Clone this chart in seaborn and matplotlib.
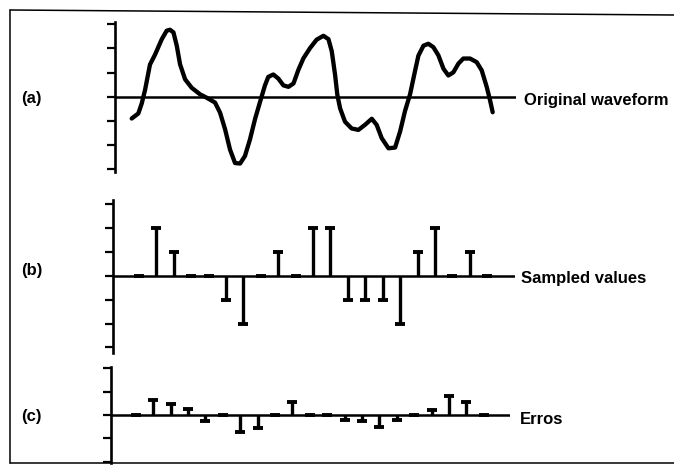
import matplotlib
matplotlib.use("Agg")
import matplotlib.pyplot as plt
import seaborn as sns
import numpy as np
import pandas as pd
from matplotlib.lines import Line2D

# ---------------- data ----------------
panel_letters = ["(a)", "(b)", "(c)"]
panel_names = ["Original waveform", "Sampled values", "Erros"]

wave_t = [-0.44, -0.06, 0.14, 0.33, 0.61, 0.90, 1.29, 1.57, 1.76, 1.96, 2.15, 2.34,
          2.63, 3.01, 3.49, 3.87, 4.35, 4.64, 4.93, 5.21, 5.50, 5.79, 6.07, 6.36,
          6.65, 6.93, 7.22, 7.41, 7.70, 7.99, 8.28, 8.57, 8.86, 9.14, 9.43, 9.81,
          10.19, 10.58, 10.87, 11.06, 11.25, 11.38, 11.54, 11.82, 12.20, 12.59,
          12.97, 13.36, 13.64, 13.93, 14.32, 14.70, 14.99, 15.27, 15.56, 15.85,
          16.04, 16.33, 16.61, 16.90, 17.19, 17.48, 17.76, 18.05, 18.34, 18.62,
          19.01, 19.39, 19.68, 19.97, 20.16, 20.31]
wave_v = [-0.90, -0.69, -0.27, 0.29, 1.33, 1.74, 2.38, 2.73, 2.77, 2.66, 2.11, 1.34,
          0.72, 0.37, 0.10, -0.04, -0.24, -0.66, -1.35, -2.18, -2.74, -2.76, -2.45,
          -1.76, -0.92, -0.23, 0.47, 0.82, 0.92, 0.75, 0.47, 0.41, 0.55, 1.11, 1.59,
          2.01, 2.36, 2.52, 2.38, 1.88, 0.91, 0.08, -0.48, -1.03, -1.31, -1.37,
          -1.16, -0.91, -1.16, -1.71, -2.13, -2.10, -1.43, -0.59, 0.10, 1.08, 1.70,
          2.11, 2.19, 2.05, 1.71, 1.16, 0.88, 1.01, 1.37, 1.58, 1.58, 1.43, 1.09,
          0.40, -0.15, -0.64]

sample_idx = list(range(21))
sampled = [0, 2, 1, 0, 0, -1, -2, 0, 1, 0, 2, 2, -1, -1, -1, -2, 1, 2, 0, 1, 0]
errors = [0, 0.66, 0.49, 0.24, -0.24, 0, -0.73, -0.54, 0, 0.57, 0, 0, -0.23,
          -0.27, -0.53, -0.20, 0, 0.21, 0.80, 0.56, 0]

ticks_ab = [-3, -2, -1, 0, 1, 2, 3]
ticks_c = [-2, -1, 0, 1, 2]

# ---------------- style ----------------
sns.set_style("white")
plt.rcParams['font.family'] = ['Liberation Sans', 'DejaVu Sans']
plt.rcParams['text.color'] = 'black'

W, H = 674, 466
fig = plt.figure(figsize=(W / 100, H / 100), dpi=100)
fig.patch.set_facecolor("white")


def add_ax(l, r, t, b):
    return fig.add_axes([l / W, 1 - b / H, (r - l) / W, (b - t) / H])


def style(ax, yt, xlim, ylim):
    for s in ["top", "right", "bottom"]:
        ax.spines[s].set_visible(False)
    ax.spines["left"].set_linewidth(1.9)
    ax.spines["left"].set_color("black")
    ax.set_xlim(*xlim)
    ax.set_ylim(*ylim)
    ax.set_xticks([])
    ax.set_yticks(yt)
    ax.set_yticklabels([])
    ax.tick_params(axis="y", direction="out", length=6, width=1.6,
                   color="black", left=True)
    ax.axhline(0, color="black", lw=1.8, zorder=1)
    ax.patch.set_alpha(0)
    ax.set_xlabel("")
    ax.set_ylabel("")


def stems(ax, x, y):
    ax.vlines(x, 0, y, color="black", lw=2.4, zorder=2)
    sns.scatterplot(x=x, y=y, marker="_", s=55, linewidth=2.8,
                    color="black", ax=ax, zorder=3, legend=False)


# (a) original waveform
ax_a = add_ax(115, 516, 22, 172)
df_w = pd.DataFrame({"t": wave_t, "v": wave_v})
sns.lineplot(data=df_w, x="t", y="v", sort=False, estimator=None,
             color="black", lw=3.1, ax=ax_a, zorder=3)
for ln in ax_a.lines:
    ln.set_solid_capstyle("round")
    ln.set_solid_joinstyle("round")
style(ax_a, ticks_ab, (-1.40, 21.65), (-3.11, 3.09))

# (b) sampled values
ax_b = add_ax(113, 515, 200, 353)
stems(ax_b, sample_idx, sampled)
style(ax_b, ticks_ab, (-1.49, 21.6), (-3.23, 3.15))

# (c) errors
ax_c = add_ax(111, 510, 367, 463)
stems(ax_c, sample_idx, errors)
style(ax_c, ticks_c, (-1.43, 21.5), (-2.06, 2.06))

# labels
fs = 12
for (lx, ly), txt in zip([(21, 98), (21, 271), (21, 417)], panel_letters):
    fig.text(lx / W, 1 - ly / H, txt, fontsize=fs, fontweight="bold",
             va="center", ha="left", color="black")
for (lx, ly), txt in zip([(524, 100), (521, 278), (520, 419)], panel_names):
    fig.text(lx / W, 1 - ly / H, txt, fontsize=fs, fontweight="bold",
             va="center", ha="left", color="black")

# frame of the scanned figure
fig.add_artist(Line2D([10 / W, 10 / W], [1 - 10 / H, 1 - 463 / H],
                      transform=fig.transFigure, color="black", lw=1.1))
fig.add_artist(Line2D([10 / W, 1.0], [1 - 10 / H, 1 - 15 / H],
                      transform=fig.transFigure, color="black", lw=1.1))
fig.add_artist(Line2D([10 / W, 1.0], [1 - 463 / H, 1 - 463 / H],
                      transform=fig.transFigure, color="black", lw=1.1))

fig.savefig("out.png", dpi=100, facecolor="white")
